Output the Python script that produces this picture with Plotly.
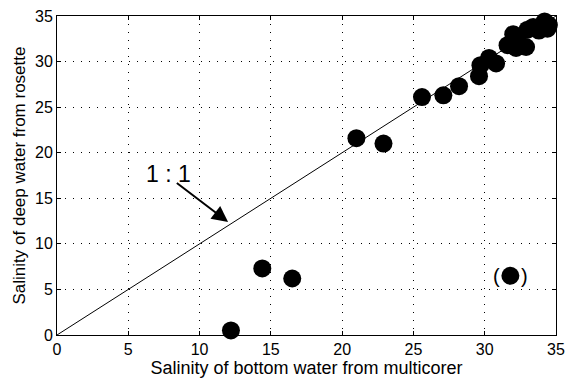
import plotly.graph_objects as go

# Data
multicorer = [12.2, 14.4, 16.5, 21.0, 22.9, 25.6, 27.1, 28.2, 29.6, 29.7, 30.3, 30.8,
              31.6, 32.0, 32.2, 32.3, 32.9, 33.0, 33.4, 33.8, 34.2, 34.4, 34.5]
rosette = [0.5, 7.3, 6.2, 21.6, 21.0, 26.1, 26.3, 27.3, 28.4, 29.6, 30.4, 29.8,
           31.8, 33.0, 31.5, 32.3, 31.6, 33.5, 33.8, 33.4, 34.4, 33.6, 34.0]
outlier_x = [31.8]
outlier_y = [6.5]
one_to_one = [0, 35]
ticks = [0, 5, 10, 15, 20, 25, 30, 35]

font = "Liberation Sans, Arial, sans-serif"

fig = go.Figure()
fig.add_trace(go.Scatter(x=one_to_one, y=one_to_one, mode="lines",
                         line=dict(color="black", width=1), showlegend=False,
                         hoverinfo="skip"))
fig.add_trace(go.Scatter(x=multicorer, y=rosette, mode="markers",
                         marker=dict(color="black", size=18), showlegend=False,
                         cliponaxis=False))
fig.add_trace(go.Scatter(x=outlier_x, y=outlier_y, mode="markers",
                         marker=dict(color="black", size=18), showlegend=False,
                         cliponaxis=False))

# parentheses around the outlier
fig.add_annotation(x=outlier_x[0], y=outlier_y[0], text="(", showarrow=False,
                   xshift=-14, font=dict(size=20, color="black", family=font))
fig.add_annotation(x=outlier_x[0], y=outlier_y[0], text=")", showarrow=False,
                   xshift=14, font=dict(size=20, color="black", family=font))

# 1:1 label with arrow
fig.add_annotation(x=12.0, y=12.4, ax=8.3, ay=16.8, axref="x", ayref="y",
                   text="", showarrow=True, arrowhead=2, arrowsize=1.6,
                   arrowwidth=2, arrowcolor="black")
fig.add_annotation(x=7.8, y=17.7, text="1 : 1", showarrow=False,
                   font=dict(size=23, color="black", family=font))

axis_common = dict(range=[0, 35], tickvals=ticks, ticks="inside", ticklen=4,
                   tickcolor="black", showline=True, linecolor="black",
                   linewidth=1, mirror="ticks", showgrid=True,
                   gridcolor="black", gridwidth=1, griddash="1px,7px",
                   zeroline=False, tickfont=dict(size=16, color="black", family=font),
                   automargin=False)

fig.update_xaxes(**axis_common, title_text="Salinity of bottom water from multicorer",
                 title_standoff=3,
                 title_font=dict(size=18, color="black", family=font))
fig.update_yaxes(**axis_common, title_text="Salinity of deep water from rosette",
                 title_standoff=5,
                 title_font=dict(size=17, color="black", family=font))

fig.update_layout(width=566, height=385, margin=dict(l=57, r=10, t=16, b=50),
                  plot_bgcolor="white", paper_bgcolor="white",
                  font=dict(family=font, color="black"))

fig.write_html("out.html")
